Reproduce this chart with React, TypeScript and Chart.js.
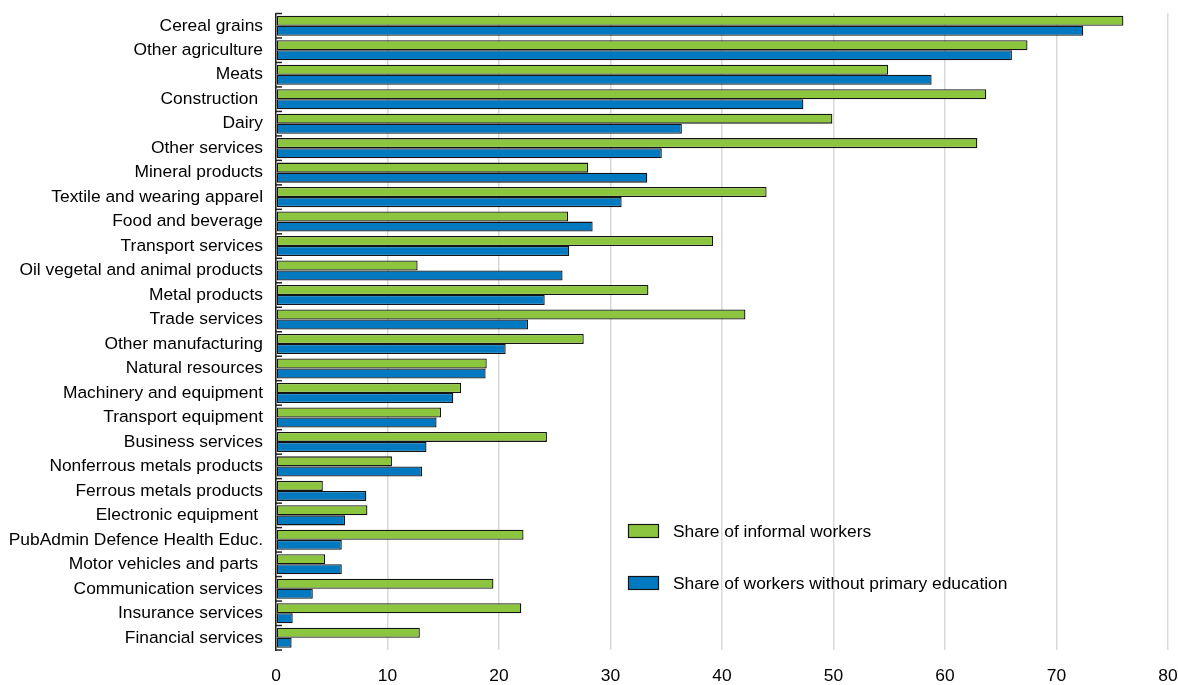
import React, { useEffect, useRef } from "react";
import { Chart, registerables } from "chart.js";

Chart.register(...registerables);

const categories: string[] = [
  "Cereal grains",
  "Other agriculture",
  "Meats",
  "Construction ",
  "Dairy",
  "Other services",
  "Mineral products",
  "Textile and wearing apparel",
  "Food and beverage",
  "Transport services",
  "Oil vegetal and animal products",
  "Metal products",
  "Trade services",
  "Other manufacturing",
  "Natural resources",
  "Machinery and equipment",
  "Transport equipment",
  "Business services",
  "Nonferrous metals products",
  "Ferrous metals products",
  "Electronic equipment ",
  "PubAdmin Defence Health Educ.",
  "Motor vehicles and parts ",
  "Communication services",
  "Insurance services",
  "Financial services",
];

const informalShare: number[] = [
  76.0, 67.4, 54.9, 63.7, 49.9, 62.9, 28.0, 44.0, 26.2, 39.2, 12.7, 33.4, 42.1,
  27.6, 18.9, 16.6, 14.8, 24.3, 10.4, 4.2, 8.2, 22.2, 4.4, 19.5, 22.0, 12.9,
];

const noPrimaryShare: number[] = [
  72.4, 66.0, 58.8, 47.3, 36.4, 34.6, 33.3, 31.0, 28.4, 26.3, 25.7, 24.1, 22.6,
  20.6, 18.8, 15.9, 14.4, 13.5, 13.1, 8.1, 6.2, 5.9, 5.9, 3.3, 1.5, 1.4,
];

const seriesLabels: string[] = [
  "Share of informal workers",
  "Share of workers without primary education",
];

const GREEN = "rgb(140,198,63)";
const BLUE = "rgb(0,121,192)";
const EDGE = "#141414";
const FONT_FAMILY = '"Liberation Sans", Arial, sans-serif';
const FONT_SIZE = 17.4;

const innerTicksPlugin = {
  id: "innerTicks",
  afterDatasetsDraw(chart: any) {
    const y = chart.scales.y;
    const ctx = chart.ctx;
    const n = chart.data.labels.length;
    const x0 = chart.chartArea.left;
    ctx.save();
    ctx.strokeStyle = "#222";
    ctx.lineWidth = 1.5;
    for (let i = 0; i <= n; i++) {
      const yy = y.top + (i * (y.bottom - y.top)) / n;
      ctx.beginPath();
      ctx.moveTo(x0, yy);
      ctx.lineTo(x0 + 6, yy);
      ctx.stroke();
    }
    ctx.restore();
  },
};

const legendPlugin = {
  id: "innerLegend",
  afterDraw(chart: any) {
    const ctx = chart.ctx;
    const items = chart.data.datasets;
    const boxX = 628;
    const boxW = 31;
    const boxH = 14;
    const textX = 673;
    const centers = [531, 583];
    ctx.save();
    ctx.font = `${FONT_SIZE}px ${FONT_FAMILY}`;
    ctx.textBaseline = "middle";
    ctx.textAlign = "left";
    items.forEach((ds: any, i: number) => {
      const cy = centers[i];
      ctx.fillStyle = ds.backgroundColor;
      ctx.fillRect(boxX, cy - boxH / 2, boxW, boxH);
      ctx.strokeStyle = EDGE;
      ctx.lineWidth = 1.2;
      ctx.strokeRect(boxX + 0.5, cy - boxH / 2 + 0.5, boxW - 1, boxH - 1);
      ctx.fillStyle = "#000";
      ctx.fillText(ds.label, textX, cy + 1);
    });
    ctx.restore();
  },
};

export default function App() {
  const canvasRef = useRef<HTMLCanvasElement | null>(null);

  useEffect(() => {
    if (!canvasRef.current) return;
    const chart = new Chart(canvasRef.current, {
      type: "bar",
      data: {
        labels: categories,
        datasets: [
          {
            label: seriesLabels[0],
            data: informalShare,
            backgroundColor: GREEN,
            borderColor: EDGE,
            borderWidth: 1.3,
            borderSkipped: false,
          },
          {
            label: seriesLabels[1],
            data: noPrimaryShare,
            backgroundColor: BLUE,
            borderColor: EDGE,
            borderWidth: 1.3,
            borderSkipped: false,
          },
        ],
      },
      options: {
        indexAxis: "y",
        animation: false,
        responsive: true,
        maintainAspectRatio: false,
        layout: { padding: { left: 0, right: 10, top: 13.5, bottom: 0 } },
        datasets: {
          bar: { categoryPercentage: 0.82, barPercentage: 1 },
        },
        plugins: {
          legend: { display: false },
          tooltip: { enabled: false },
          title: { display: false },
        },
        scales: {
          x: {
            type: "linear",
            min: 0,
            max: 80,
            ticks: {
              stepSize: 10,
              color: "#000",
              padding: 16,
              font: { family: FONT_FAMILY, size: FONT_SIZE },
            },
            grid: {
              color: "#d9d9d9",
              lineWidth: 1.5,
              drawTicks: false,
              tickLength: 0,
            },
            border: { display: false },
            afterFit: (scale: any) => {
              scale.height = 35;
              scale.paddingLeft = 0;
              scale.paddingRight = 0;
            },
          },
          y: {
            type: "category",
            ticks: {
              color: "#000",
              padding: 13,
              autoSkip: false,
              font: { family: FONT_FAMILY, size: FONT_SIZE },
            },
            grid: { display: false, drawTicks: false, tickLength: 0 },
            border: { display: true, color: "#222", width: 1.5 },
            afterFit: (scale: any) => {
              scale.width = 276;
              scale.paddingTop = 0;
              scale.paddingBottom = 0;
            },
          },
        },
      },
      plugins: [innerTicksPlugin, legendPlugin],
    } as any);
    return () => chart.destroy();
  }, []);

  return (
    <div
      style={{
        position: "absolute",
        left: 0,
        top: 0,
        width: "1178px",
        height: "685px",
        background: "#fff",
      }}
    >
      <canvas ref={canvasRef} />
    </div>
  );
}
